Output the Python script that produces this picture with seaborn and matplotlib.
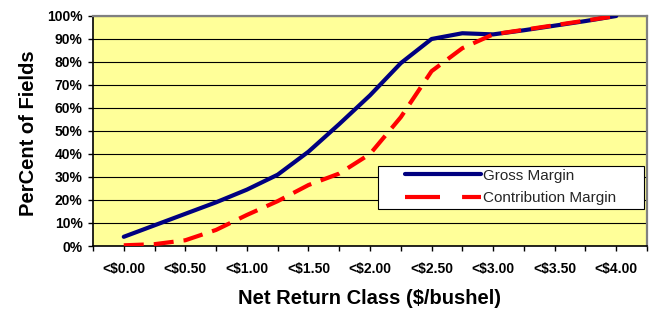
import matplotlib
matplotlib.use('Agg')
import matplotlib.pyplot as plt
import seaborn as sns
from matplotlib.lines import Line2D
from matplotlib.patches import Rectangle
from matplotlib.ticker import PercentFormatter, MultipleLocator

# Net return classes ($/bushel), one point every $0.25
classes = [0.00, 0.25, 0.50, 0.75, 1.00, 1.25, 1.50, 1.75, 2.00,
           2.25, 2.50, 2.75, 3.00, 3.25, 3.50, 3.75, 4.00]

# Cumulative percent of fields
gross_margin = [4, 9, 14, 19, 24.5, 31, 41, 53, 65.5,
                79.5, 90, 92.5, 92, 93.8, 95.8, 97.8, 100]
contribution_margin = [0.3, 0.8, 2.5, 7, 13.5, 19.5, 26.5, 31.5, 40,
                       56, 76, 86, 92, 94, 96, 98, 100]

tick_values = [0.0, 0.5, 1.0, 1.5, 2.0, 2.5, 3.0, 3.5, 4.0]
tick_labels = ['<$0.00', '<$0.50', '<$1.00', '<$1.50', '<$2.00',
               '<$2.50', '<$3.00', '<$3.50', '<$4.00']

sns.set_theme(style='white')
plt.rcParams['font.family'] = ['Liberation Sans', 'DejaVu Sans']

blue = '#000080'
red = '#FF0000'

fig = plt.figure(figsize=(6.56, 3.12), dpi=100)
ax = fig.add_axes([93 / 656, 1 - 246 / 312, 554 / 656, 230 / 312])
ax.set_facecolor('#FFFF99')

sns.lineplot(x=classes, y=gross_margin, ax=ax, color=blue, lw=3,
             legend=False, zorder=3)
sns.lineplot(x=classes, y=contribution_margin, ax=ax, color=red, lw=3,
             legend=False, zorder=4)
ax.lines[0].set_solid_joinstyle('round')
ax.lines[1].set_dashes((4.8, 2.4))
ax.lines[1].set_dash_capstyle('butt')

ax.set_xlim(-0.25, 4.25)
ax.set_ylim(0, 100)
ax.yaxis.set_major_locator(MultipleLocator(10))
ax.yaxis.set_major_formatter(PercentFormatter(100, decimals=0))
ax.set_xticks(tick_values)
ax.set_xticklabels(tick_labels)
ax.xaxis.set_minor_locator(MultipleLocator(0.25))

ax.yaxis.grid(True, color='black', lw=0.8)
ax.set_axisbelow(True)

ax.tick_params(axis='both', which='both', direction='out', length=3.5,
               width=1, color='black', labelsize=10, labelcolor='black',
               bottom=True, left=True)
ax.tick_params(axis='x', which='both', pad=8)
ax.tick_params(axis='y', pad=4)
plt.setp(ax.get_xticklabels(), fontweight='bold')
plt.setp(ax.get_yticklabels(), fontweight='bold')

for side in ['top', 'right']:
    ax.spines[side].set_color('#808080')
    ax.spines[side].set_linewidth(1.6)
for side in ['left', 'bottom']:
    ax.spines[side].set_color('black')
    ax.spines[side].set_linewidth(1.2)

ax.set_xlabel('Net Return Class ($/bushel)', fontsize=14.5,
              fontweight='bold', color='black')
ax.xaxis.set_label_coords(0.5, -0.187)
ax.set_ylabel('PerCent of Fields', fontsize=14.5, fontweight='bold',
              color='black')
ax.yaxis.set_label_coords(-0.099, 0.49)

# Legend box
ax.add_patch(Rectangle((0.514, 0.161), 0.481, 0.187, transform=ax.transAxes,
                       facecolor='white', edgecolor='black', lw=0.8,
                       zorder=5))
handles = [Line2D([], [], color=blue, lw=3),
           Line2D([], [], color=red, lw=3, dashes=(8.4, 5.3),
                  dash_capstyle='butt')]
leg = ax.legend(handles, ['Gross Margin', 'Contribution Margin'],
                loc='center left', bbox_to_anchor=(0.563, 0.2565),
                frameon=False, fontsize=11, handlelength=5.0,
                handletextpad=0.13, labelspacing=0.55, borderpad=0,
                borderaxespad=0)
leg.set_zorder(6)

fig.savefig('out.png', dpi=100)
